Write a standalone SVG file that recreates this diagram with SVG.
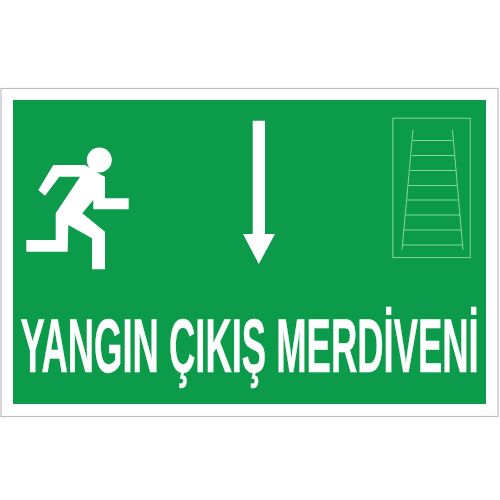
<svg xmlns="http://www.w3.org/2000/svg" width="500" height="500" viewBox="0 0 500 500">
<style>
.w{fill:#fff}
.l{stroke:#8ad4a2;stroke-width:1;fill:none}
text{font-family:"Liberation Sans",Arial,sans-serif;font-weight:bold;fill:#fff;stroke:#fff;stroke-width:.12}
</style>
<rect width="500" height="500" fill="#fff"/>
<rect x="1" y="88.500" width="497" height="328" fill="#fff" stroke="#bdbdc2" stroke-width="1.200"/>
<rect x="13" y="100" width="473" height="304" fill="#0b9b4a"/>
<g id="runner" class="w">
<circle cx="99.300" cy="160" r="12.500"/>
<polygon points="53.300,165 85,165 100,174.300 105,176.700 105,198.300 128.700,198.300 128.700,209.300 93.300,209.300 93.300,200 82.300,213.300 105,231.700 105,269.300 92,269.300 92,238.300 68.300,225 67.700,251.700 26.300,251.700 26.300,240 55.700,240 55.700,213.300 80,176.700 59.300,176.700 45,195.700 38.300,190"/>
</g>
<g id="arrow" class="w">
<polygon points="252.700,120.700 265,120.700 265,234 275,234 258.800,264 243,234 252.700,234"/>
</g>
<g id="ladder" class="l">
<rect x="392.800" y="118.200" width="77.400" height="139.400"/>
<path d="M413,130 L402,250 M452.500,130 L463,250 M413,140.500H452.500M412,155.500H454M410.500,170.500H455.500M408.500,185.500H457M407,200H458.500M405.500,215H460M404,230H461.500M403,245H462.500"/>
</g>
<g id="label">
<text transform="translate(20.500,372.300) scale(1.822,3.780)" font-size="20">YANGIN ÇIKIŞ MERDİVENİ</text>
</g>
</svg>
